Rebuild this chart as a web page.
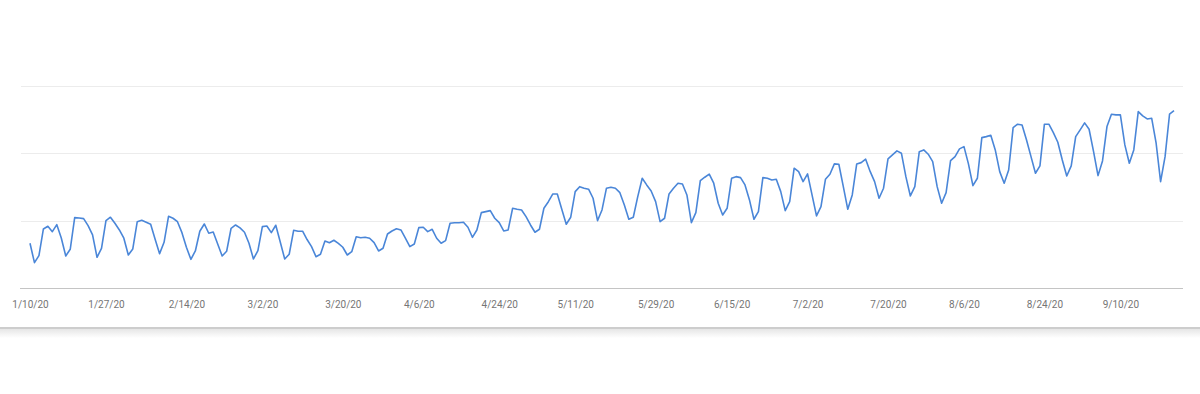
<!DOCTYPE html>
<html>
<head>
<meta charset="utf-8">
<script src="https://cdn.jsdelivr.net/npm/d3@7"></script>
<style>
  body { margin: 0; background: #fff; }
  #chart svg { display: block; }
</style>
</head>
<body>
<div id="chart"></div>
<script>
// Daily values, one per day starting 1/10/20
const startDate = "2020-01-10";
const dailyValues = [
  664, 376, 480, 877, 917, 837, 941, 743, 476, 575,
  1045, 1040, 1030, 926, 788, 456, 590, 1000, 1051, 961,
  862, 739, 490, 580, 985, 1006, 976, 947, 724, 510,
  679, 1065, 1036, 985, 822, 605, 426, 550, 843, 951,
  813, 832, 654, 476, 545, 887, 936, 892, 828, 664,
  431, 554, 911, 921, 822, 932, 684, 431, 501, 857,
  843, 843, 720, 614, 465, 501, 698, 673, 709, 664,
  605, 490, 539, 762, 747, 753, 739, 673, 550, 590,
  802, 847, 881, 862, 739, 614, 654, 896, 902, 837,
  872, 739, 664, 703, 961, 970, 970, 976, 902, 753,
  862, 1119, 1134, 1149, 1036, 970, 847, 862, 1184, 1169,
  1159, 1060, 936, 828, 872, 1184, 1282, 1397, 1397, 1169,
  947, 1051, 1431, 1505, 1482, 1467, 1333, 1000, 1159, 1482,
  1496, 1482, 1416, 1233, 1021, 1051, 1357, 1630, 1531, 1441,
  1282, 985, 1036, 1397, 1482, 1556, 1545, 1382, 970, 1119,
  1594, 1645, 1690, 1556, 1259, 1085, 1184, 1630, 1654, 1639,
  1531, 1308, 1021, 1134, 1639, 1630, 1605, 1615, 1431, 1149,
  1282, 1779, 1728, 1580, 1694, 1382, 1070, 1208, 1615, 1690,
  1843, 1838, 1505, 1169, 1382, 1843, 1862, 1913, 1731, 1580,
  1333, 1482, 1917, 1976, 2036, 2002, 1654, 1367, 1505, 2025,
  2051, 1987, 1877, 1505, 1259, 1416, 1892, 1951, 2066, 2100,
  1843, 1520, 1630, 2233, 2248, 2269, 2051, 1728, 1556, 1753,
  2382, 2433, 2422, 2199, 1951, 1704, 1813, 2433, 2433, 2308,
  2165, 1902, 1664, 1813, 2248, 2348, 2452, 2358, 2025, 1669,
  1887, 2397, 2581, 2571, 2571, 2125, 1853, 2051, 2620, 2556,
  2511, 2522, 2150, 1580, 1951, 2581, 2635
];
const gridValues = [1000, 2000, 3000];
const tickDates = [
  "2020-01-10", "2020-01-27", "2020-02-14", "2020-03-02", "2020-03-20",
  "2020-04-06", "2020-04-24", "2020-05-11", "2020-05-29", "2020-06-15",
  "2020-07-02", "2020-07-20", "2020-08-06", "2020-08-24", "2020-09-10"
];

const width = 1200;
const height = 394;
const plot = { left: 21, right: 1183, top: 86, bottom: 288 };

const parseDate = d3.timeParse("%Y-%m-%d");
const first = parseDate(startDate);
const dates = dailyValues.map((_, i) => d3.timeDay.offset(first, i));
const data = dailyValues.map((v, i) => ({ date: dates[i], value: v }));

const svg = d3
  .select("#chart")
  .append("svg")
  .attr("width", width)
  .attr("height", height);

const xScale = d3
  .scaleTime()
  .domain([dates[0], dates[dates.length - 1]])
  .range([30, 1174]);

const yScale = d3
  .scaleLinear()
  .domain([0, 3000])
  .range([plot.bottom, plot.top]);

// Horizontal gridlines
svg
  .append("g")
  .selectAll("line")
  .data(gridValues)
  .join("line")
  .attr("x1", plot.left)
  .attr("x2", plot.right)
  .attr("y1", (d) => Math.round(yScale(d)) + 0.5)
  .attr("y2", (d) => Math.round(yScale(d)) + 0.5)
  .attr("stroke", "#ececec")
  .attr("stroke-width", 1);

// X axis
const xAxis = svg
  .append("g")
  .attr("transform", `translate(0, ${plot.bottom})`)
  .call(
    d3
      .axisBottom(xScale)
      .tickValues(tickDates.map(parseDate))
      .tickFormat(d3.timeFormat("%-m/%-d/%y"))
      .tickSize(0)
      .tickPadding(13)
  );
xAxis.select(".domain").remove();
xAxis
  .selectAll("text")
  .attr("fill", "#757575")
  .style("font-family", "Roboto, 'Noto Sans', sans-serif")
  .style("font-size", "10px");

// Baseline
svg
  .append("line")
  .attr("x1", plot.left - 1)
  .attr("x2", plot.right)
  .attr("y1", plot.bottom + 0.5)
  .attr("y2", plot.bottom + 0.5)
  .attr("stroke", "#c4c4c4")
  .attr("stroke-width", 1);

// Data line
const line = d3
  .line()
  .x((d) => xScale(d.date))
  .y((d) => yScale(d.value));

svg
  .append("path")
  .datum(data)
  .attr("fill", "none")
  .attr("stroke", "#4a86d8")
  .attr("stroke-width", 1.6)
  .attr("stroke-linejoin", "round")
  .attr("d", line);

// Card bottom edge with soft shadow
const defs = svg.append("defs");
const grad = defs
  .append("linearGradient")
  .attr("id", "shadow")
  .attr("x1", 0).attr("y1", 0)
  .attr("x2", 0).attr("y2", 1);
grad.append("stop").attr("offset", "0%").attr("stop-color", "#e6e6e6");
grad.append("stop").attr("offset", "100%").attr("stop-color", "#ffffff");

svg
  .append("rect")
  .attr("x", 0)
  .attr("y", 329)
  .attr("width", width)
  .attr("height", 9)
  .attr("fill", "url(#shadow)");

svg
  .append("rect")
  .attr("x", 0)
  .attr("y", 327)
  .attr("width", width)
  .attr("height", 2)
  .attr("fill", "#cdcdcd");
</script>
</body>
</html>
